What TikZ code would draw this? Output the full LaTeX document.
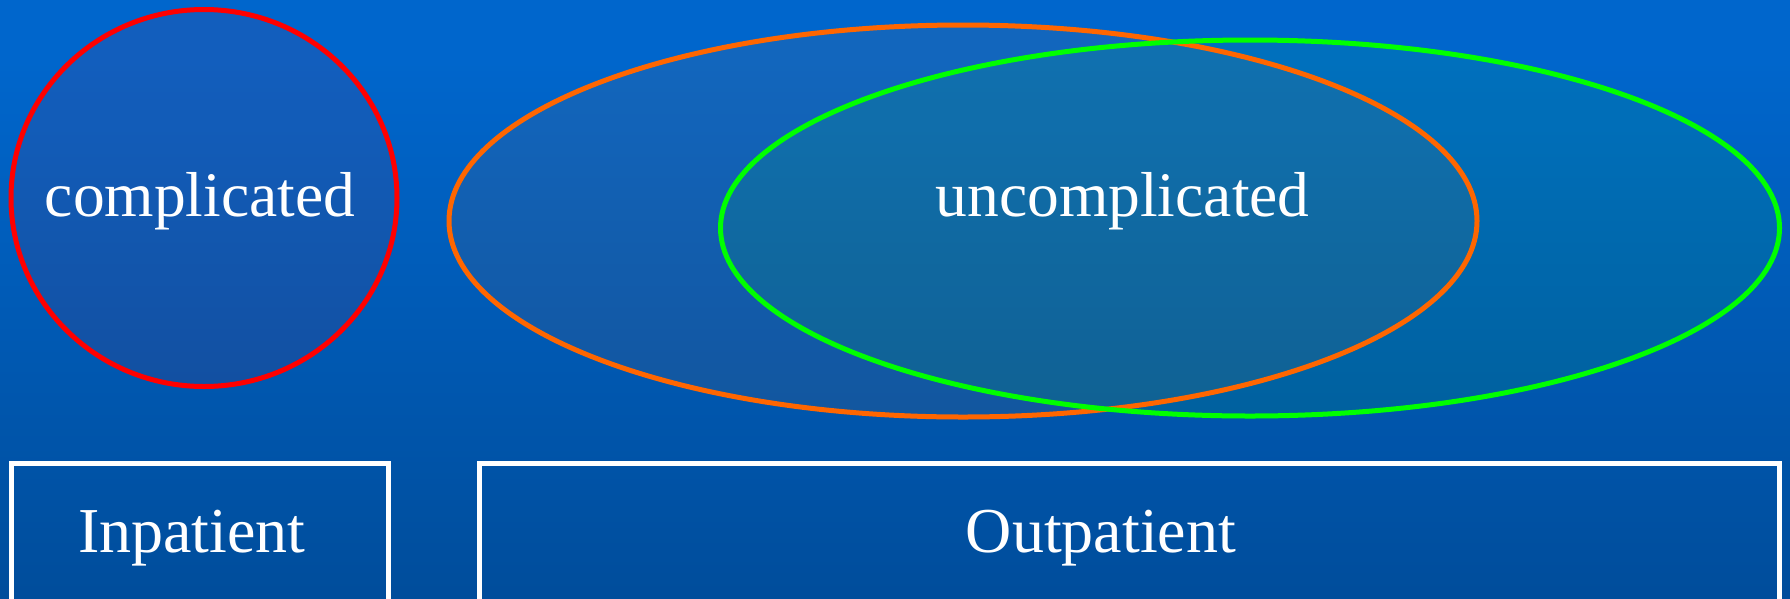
\documentclass[tikz,border=0pt]{standalone}
\usepackage{fontspec}
\setmainfont{Liberation Serif}
\usetikzlibrary{shapes.geometric}
\definecolor{bgtop}{RGB}{0,102,204}
\definecolor{bgbot}{RGB}{0,63,128}
\definecolor{cred}{RGB}{255,0,0}
\definecolor{corange}{RGB}{255,102,0}
\definecolor{cgreen}{RGB}{0,255,0}
\pgfdeclareverticalshading{bgshade}{100bp}{color(0bp)=(bgbot); color(70bp)=(bgtop); color(100bp)=(bgtop)}
\tikzset{
  setfill/.style={ellipse, inner sep=0pt, fill=#1, fill opacity=0.07, draw=none},
  setline/.style={ellipse, inner sep=0pt, draw=#1, line width=5pt},
  biglabel/.style={text=white, inner sep=0pt, anchor=base, font=\fontsize{63.5}{76}\selectfont},
  boxlabel/.style={text=white, inner sep=0pt, anchor=base, font=\fontsize{64}{77}\selectfont},
  careframe/.style={draw=white, line width=5pt, inner sep=0pt}
}
\begin{document}
\begin{tikzpicture}[x=1pt,y=-1pt]
\useasboundingbox (0,0) rectangle (1790,598);
\shade[shading=bgshade] (0,0) rectangle (1790,598);
% fills
\node[setfill=cred, minimum width=386pt, minimum height=377pt] (redfill) at (204,198) {};
\node[setfill=corange, minimum width=1028pt, minimum height=392pt] (orangefill) at (963,221) {};
\node[setfill=cgreen, minimum width=1059pt, minimum height=376pt] (greenfill) at (1250,228) {};
% outlines
\node[setline=cred, minimum width=386pt, minimum height=377pt] (complicated) at (204,198) {};
\node[setline=corange, minimum width=1028pt, minimum height=392pt] (outset) at (963,221) {};
\node[setline=cgreen, minimum width=1059pt, minimum height=376pt] (uncomplicated) at (1250,228) {};
% labels
\node[biglabel] (complab) at (200,216) {complicated};
\node[biglabel] (uncomplab) at (1122.6,216) {uncomplicated};
% boxes
\node[careframe, minimum width=377.5pt, minimum height=180pt] (inbox) at (199.75,553) {};
\node[careframe, minimum width=1300.5pt, minimum height=180pt] (outbox) at (1129.25,553) {};
\node[boxlabel] (inlab) at (192,552) {Inpatient};
\node[boxlabel] (outlab) at (1101,552) {Outpatient};
\end{tikzpicture}
\end{document}
